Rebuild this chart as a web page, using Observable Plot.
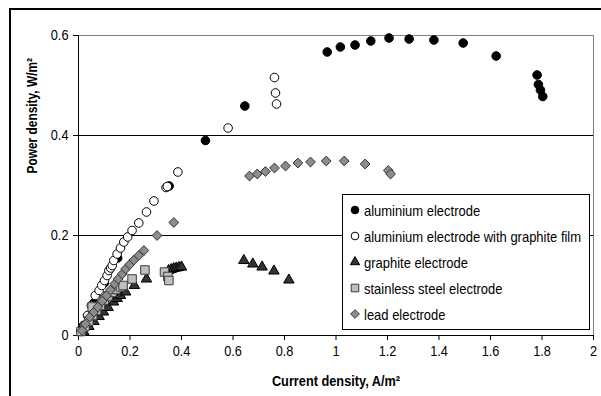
<!DOCTYPE html>
<html>
<head>
<meta charset="utf-8">
<script src="https://cdn.jsdelivr.net/npm/d3@7"></script>
<script src="https://cdn.jsdelivr.net/npm/@observablehq/plot@0.6"></script>
<style>
  html, body { margin: 0; padding: 0; background: #fff; overflow: hidden; }
  #wrap { position: relative; width: 601px; height: 396px; overflow: hidden; }
  #frame { position: absolute; left: 9px; top: 8px; width: 700px; height: 500px; border-top: 2px solid #000; border-left: 2px solid #000; pointer-events: none; }
  #legend { position: absolute; left: 342px; top: 194px; width: 246px; height: 134px; border: 1px solid #000; background: #fff; font-family: "Liberation Sans", Arial, sans-serif; font-size: 15px; }
  .item { position: absolute; left: 5px; height: 20px; display: flex; align-items: center; white-space: nowrap; }
  .item svg { margin-right: 2px; flex: none; }
  .item span { display: inline-block; transform: scaleX(0.865); transform-origin: left center; }
  g[aria-label="x-axis label"] text { font-weight: bold; }
</style>
</head>
<body>
<div id="wrap"></div>
<script>
// ---- data ----
const seriesNames = [
  "aluminium electrode",
  "aluminium electrode with graphite film",
  "graphite electrode",
  "stainless steel electrode",
  "lead electrode"
];
const xTitle = "Current density, A/m²";
const yTitle = "Power density, W/m²";

const aluX = [0.01, 0.02, 0.06, 0.1, 0.152, 0.352, 0.493, 0.646, 0.966, 1.017, 1.074, 1.135, 1.206, 1.284, 1.380, 1.494, 1.622, 1.781, 1.786, 1.794, 1.803];
const aluY = [0.008, 0.02, 0.065, 0.105, 0.155, 0.299, 0.39, 0.459, 0.567, 0.577, 0.581, 0.589, 0.595, 0.593, 0.591, 0.585, 0.559, 0.521, 0.502, 0.491, 0.478];

const filmX = [0.01, 0.02, 0.035, 0.05, 0.065, 0.08, 0.09, 0.101, 0.111, 0.118, 0.125, 0.131, 0.137, 0.15, 0.163, 0.176, 0.191, 0.208, 0.234, 0.264, 0.293, 0.34, 0.345, 0.386, 0.581, 0.761, 0.765, 0.769];
const filmY = [0.01, 0.02, 0.04, 0.06, 0.08, 0.09, 0.1, 0.11, 0.12, 0.13, 0.135, 0.14, 0.15, 0.163, 0.175, 0.187, 0.197, 0.21, 0.225, 0.247, 0.269, 0.296, 0.298, 0.327, 0.415, 0.516, 0.485, 0.463];

const graphX = [0.02, 0.04, 0.06, 0.08, 0.097, 0.115, 0.136, 0.15, 0.163, 0.183, 0.217, 0.264, 0.35, 0.36, 0.37, 0.38, 0.39, 0.40, 0.642, 0.677, 0.713, 0.759, 0.817];
const graphY = [0.008, 0.018, 0.028, 0.038, 0.047, 0.056, 0.067, 0.074, 0.08, 0.087, 0.1, 0.113, 0.130, 0.132, 0.134, 0.135, 0.136, 0.137, 0.15, 0.143, 0.137, 0.129, 0.111];

const steelX = [0.01, 0.025, 0.04, 0.055, 0.07, 0.085, 0.1, 0.115, 0.13, 0.145, 0.163, 0.173, 0.208, 0.258, 0.334, 0.347, 0.351, 0.053];
const steelY = [0.008, 0.018, 0.029, 0.04, 0.05, 0.06, 0.071, 0.079, 0.086, 0.092, 0.097, 0.1, 0.113, 0.131, 0.127, 0.118, 0.11, 0.057];

const leadX = [0.014, 0.027, 0.044, 0.06, 0.075, 0.092, 0.109, 0.124, 0.14, 0.154, 0.17, 0.183, 0.199, 0.215, 0.234, 0.254, 0.305, 0.37, 0.664, 0.694, 0.726, 0.761, 0.804, 0.852, 0.901, 0.962, 1.032, 1.113, 1.203, 1.212];
const leadY = [0.01, 0.023, 0.037, 0.047, 0.057, 0.069, 0.08, 0.091, 0.103, 0.113, 0.123, 0.133, 0.142, 0.151, 0.16, 0.17, 0.2, 0.226, 0.319, 0.323, 0.328, 0.335, 0.339, 0.345, 0.347, 0.349, 0.349, 0.343, 0.330, 0.323];

const xTicks = [0, 0.2, 0.4, 0.6, 0.8, 1, 1.2, 1.4, 1.6, 1.8, 2];
const yTicks = [0, 0.2, 0.4, 0.6];
const yGrid = [0.2, 0.4];

// ---- styles per series ----
const styles = [
  {symbol: "circle",   r: 4.3, fill: "#000000", stroke: "#000000"},
  {symbol: "circle",   r: 4.3, fill: "#ffffff", stroke: "#000000"},
  {symbol: "triangle", r: 3.9, fill: "#333333", stroke: "#000000"},
  {symbol: "square",   r: 4.8, fill: "#c0c0c0", stroke: "#3a3a3a"},
  {symbol: "diamond2", r: 4.4, fill: "#8c8c8c", stroke: "#333333"}
];
const xs = [aluX, filmX, graphX, steelX, leadX];
const ys = [aluY, filmY, graphY, steelY, leadY];
const tables = xs.map((arr, i) => arr.map((x, j) => ({x, y: ys[i][j]})));

const fmt = d => String(d);
const K = 0.85; // horizontal condensing of text (narrow face look)

const chart = Plot.plot({
  width: 601,
  height: 396,
  marginLeft: 78,
  marginRight: 8,
  marginTop: 35,
  marginBottom: 61,
  style: {fontFamily: "'Liberation Sans', Arial, sans-serif", fontSize: "15px", background: "white", color: "black", overflow: "visible"},
  x: {domain: [0, 2]},
  y: {domain: [0, 0.6]},
  marks: [
    Plot.ruleY(yGrid, {stroke: "#000", strokeWidth: 1}),
    Plot.ruleY([0.6], {stroke: "#808080"}),
    Plot.ruleX([2], {stroke: "#808080"}),
    Plot.axisX({ticks: xTicks, tickFormat: fmt, tickSize: 5, tickPadding: 5, label: xTitle, labelAnchor: "center", labelArrow: "none", labelOffset: 50}),
    Plot.axisY({ticks: yTicks, tickFormat: fmt, tickSize: 5, tickPadding: 5, label: null}),
    Plot.text([yTitle], {text: d => d, frameAnchor: "left", rotate: -90, dx: -46, dy: -12, fontWeight: "bold", fontSize: 14}),
    Plot.ruleX([0], {stroke: "#000"}),
    Plot.ruleY([0], {stroke: "#000"}),
    ...tables.map((t, i) => Plot.dot(t, {x: "x", y: "y", symbol: () => styles[i].symbol, r: styles[i].r, fill: styles[i].fill, stroke: styles[i].stroke, strokeWidth: 1}))
  ]
});

const wrap = document.getElementById("wrap");
wrap.appendChild(chart);

// condense all text along its direction (narrow-face look)
d3.select(chart).selectAll("text").each(function () {
  const L = this.getComputedTextLength();
  if (L > 0) {
    this.setAttribute("textLength", (L * K).toFixed(2));
    this.setAttribute("lengthAdjust", "spacingAndGlyphs");
  }
});

const frame = document.createElement("div");
frame.id = "frame";
wrap.appendChild(frame);

// legend
const legend = document.createElement("div");
legend.id = "legend";
const symMap = {circle: d3.symbolCircle, triangle: d3.symbolTriangle, square: d3.symbolSquare, diamond2: d3.symbolDiamond2};
seriesNames.forEach((name, i) => {
  const st = styles[i];
  const item = document.createElement("div");
  item.className = "item";
  item.style.top = (5 + i * 26) + "px";
  const size = Math.PI * st.r * st.r * 0.8;
  const path = d3.symbol(symMap[st.symbol], size)();
  item.innerHTML = `<svg width="14" height="14" viewBox="-7 -7 14 14"><path d="${path}" fill="${st.fill}" stroke="${st.stroke}" stroke-width="1"/></svg><span>${name}</span>`;
  legend.appendChild(item);
});
wrap.appendChild(legend);
</script>
</body>
</html>
